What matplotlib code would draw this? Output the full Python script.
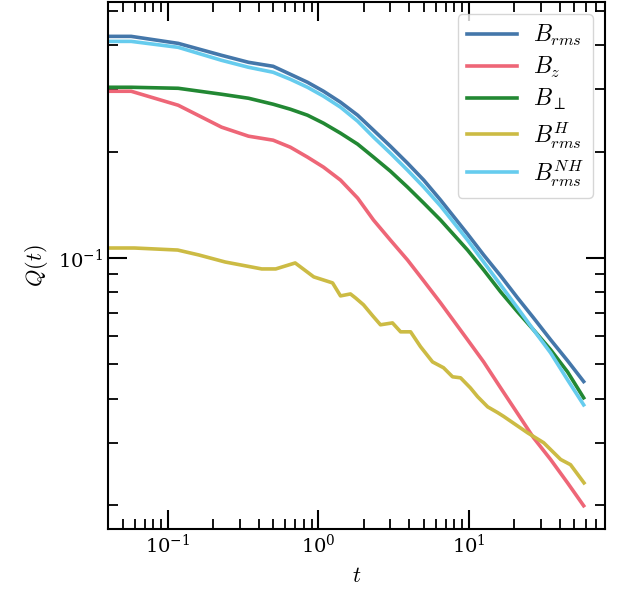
import matplotlib
matplotlib.use("Agg")
import matplotlib.pyplot as plt
import numpy as np

plt.rcParams['mathtext.fontset'] = 'cm'
plt.rcParams['font.family'] = 'DejaVu Serif'

# ---------------- data ----------------
t = [0.04, 0.057, 0.117, 0.227, 0.343, 0.50, 0.65, 0.845, 1.08, 1.40, 1.82,
     2.32, 3.0, 3.9, 5.0, 6.47, 9.77, 12.5, 16.2, 21.0, 26.8, 34.8, 45.1, 57.7]

b_rms = [0.4237, 0.4237, 0.4048, 0.3745, 0.3578, 0.3486, 0.3310, 0.3142,
         0.2963, 0.2759, 0.2535, 0.2299, 0.2072, 0.1855, 0.1661, 0.1458,
         0.1169, 0.1020, 0.0890, 0.0771, 0.0677, 0.0587, 0.0512, 0.0447]
b_z = [0.2963, 0.2963, 0.2705, 0.2345, 0.2211, 0.2154, 0.2058, 0.1929,
       0.1807, 0.1661, 0.1477, 0.1280, 0.1124, 0.0987, 0.0861, 0.0746,
       0.0587, 0.0508, 0.0429, 0.0363, 0.0310, 0.0269, 0.0231, 0.0199]
b_perp = [0.3041, 0.3041, 0.3021, 0.2906, 0.2831, 0.2723, 0.2636, 0.2535,
          0.2406, 0.2255, 0.2099, 0.1929, 0.1761, 0.1587, 0.1430, 0.1280,
          0.1053, 0.0925, 0.0802, 0.0704, 0.0626, 0.0550, 0.0476, 0.0402]
b_nh = [0.4101, 0.4101, 0.3945, 0.3625, 0.3464, 0.3353, 0.3204, 0.3041,
        0.2869, 0.2671, 0.2438, 0.2197, 0.1980, 0.1772, 0.1587, 0.1403,
        0.1124, 0.0974, 0.0839, 0.0722, 0.0626, 0.0539, 0.0452, 0.0384]

t_h = [0.04, 0.06, 0.116, 0.16, 0.24, 0.42, 0.52, 0.70, 0.93, 1.24, 1.40,
       1.63, 1.76, 1.99, 2.29, 2.58, 3.10, 3.51, 4.09, 4.76, 5.72, 6.77,
       7.77, 8.78, 10.2, 11.4, 13.3, 15.5, 17.0, 19.5, 24.5, 31.3, 40.6,
       47.2, 58]
b_h = [0.1067, 0.1067, 0.1053, 0.1020, 0.0974, 0.0931, 0.0931, 0.0968,
       0.0884, 0.0850, 0.0781, 0.0791, 0.0771, 0.0737, 0.0686, 0.0647,
       0.0655, 0.0618, 0.0618, 0.0561, 0.0508, 0.0489, 0.0461, 0.0458,
       0.0429, 0.0405, 0.0379, 0.0365, 0.0356, 0.0342, 0.0320, 0.0300,
       0.0269, 0.0260, 0.0231]

labels = [r'$B_{rms}$', r'$B_z$', r'$B_\perp$', r'$B^H_{rms}$', r'$B^{NH}_{rms}$']
colors = ['#4477AA', '#EE6677', '#228833', '#CCBB44', '#66CCEE']

# ---------------- plot ----------------
fig = plt.figure(figsize=(6.18, 5.92), dpi=100)
ax = fig.add_axes([0.1748, 0.1064, 0.979 - 0.1748, 0.9966 - 0.1064])

series = [(t, b_rms), (t, b_z), (t, b_perp), (t_h, b_h), (t, b_nh)]
for (x, y), lab, c in zip(series, labels, colors):
    ax.plot(x, y, color=c, lw=2.6, label=lab)

ax.set_xscale('log')
ax.set_yscale('log')
ax.set_xlim(0.04, 80)
ax.set_ylim(0.0171, 0.53)

ax.tick_params(which='both', direction='in', top=True, right=True, labelsize=14)
ax.tick_params(which='major', length=14, width=1.5)
ax.tick_params(which='minor', length=7, width=1.3)
for s in ax.spines.values():
    s.set_linewidth(1.5)

ax.set_xlabel(r'$t$', fontsize=16, labelpad=6)
ax.set_ylabel(r'$Q(t)$', fontsize=16, labelpad=6)

ax.legend(loc='upper right', fontsize=17, handlelength=2.1, handletextpad=0.7,
          labelspacing=0.3, borderpad=0.4)

fig.savefig('out.png', dpi=100)
